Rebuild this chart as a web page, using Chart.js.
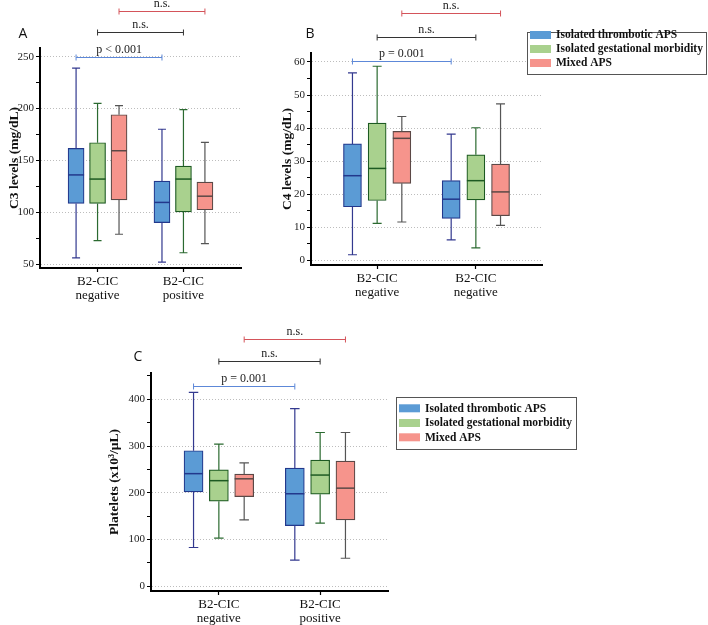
<!DOCTYPE html>
<html>
<head>
<meta charset="utf-8">
<script src="https://cdn.jsdelivr.net/npm/chart.js@4.4.1/dist/chart.umd.min.js"></script>
<style>
html, body { margin: 0; padding: 0; background: #fff; }
#wrap { position: relative; width: 708px; height: 625px; overflow: hidden; }
canvas { position: absolute; }
</style>
</head>
<body>
<div id="wrap">
  <canvas id="chartA" width="250" height="305" style="left:0;top:0"></canvas>
  <canvas id="chartB" width="458" height="305" style="left:250px;top:0"></canvas>
  <canvas id="chartC" width="480" height="305" style="left:100px;top:320px"></canvas>
</div>
<script>
// groups and categories
const groups = ['Isolated thrombotic APS', 'Isolated gestational morbidity', 'Mixed APS'];
const catLabels = [['B2-CIC', 'negative'], ['B2-CIC', 'positive']];
const catLabelsB = [['B2-CIC', 'negative'], ['B2-CIC', 'negative']];

// each entry: [min, q1, median, q3, max] for negative / positive
const c3Thrombotic = [[56, 108.5, 136, 161.5, 239], [52, 90, 109.5, 130, 180]];
const c3Gestational = [[72.6, 108.5, 132, 167, 205], [61, 100.4, 132, 144.5, 199]];
const c3Mixed = [[78.8, 112, 159.3, 194, 202.7], [69.8, 102.4, 115.5, 129, 167.3]];

const c4Thrombotic = [[1.7, 16.2, 25.6, 35.2, 56.7], [6.2, 12.7, 18.5, 24.1, 38.2]];
const c4Gestational = [[11.2, 18.1, 27.8, 41.5, 58.7], [3.8, 18.3, 24.1, 31.9, 40.1]];
const c4Mixed = [[11.6, 23.3, 36.9, 39, 43.5], [10.6, 13.5, 20.7, 29.1, 47.3]];

const pltThrombotic = [[83, 202, 241, 290, 415], [56, 130, 198, 253, 380]];
const pltGestational = [[103, 182, 226, 249, 304], [135, 197, 238, 270, 329]];
const pltMixed = [[142, 192, 230, 240, 264], [60, 142, 210, 268, 329]];

const c3Ticks = [50, 100, 150, 200, 250];
const c4Ticks = [0, 10, 20, 30, 40, 50, 60];
const pltTicks = [0, 100, 200, 300, 400];

const sigA = ['p < 0.001', 'n.s.', 'n.s.'];
const sigBC = ['p = 0.001', 'n.s.', 'n.s.'];

const fills = ['#5b9bd5', '#a9d18e', '#f6948c'];
const edges = ['#22388c', '#1d5a22', '#5b4846'];
const whiskers = ['#33398f', '#2b6a30', '#555555'];
const sigColors = ['#5d88d8', '#333333', '#d4545a'];

const SERIF = '"Liberation Serif", "Times New Roman", serif';
const GAP = 0.25; // offset of each group around the category centre

const boxPlugin = {
    id: 'boxplot',
    afterDatasetsDraw(chart) {
        const { ctx } = chart;
        const xs = chart.scales.x, ys = chart.scales.y;
        chart.data.datasets.forEach((ds, g) => {
            ds.stats.forEach((s, i) => {
                const cx = xs.getPixelForValue(ds.data[i].x);
                const half = ds.barThickness / 2;
                const cap = ds.barThickness / 4;
                const [mn, q1, md, q3, mx] = s.map(v => ys.getPixelForValue(v));
                ctx.save();
                ctx.strokeStyle = whiskers[g];
                ctx.lineWidth = 1.2;
                ctx.beginPath();
                ctx.moveTo(cx, q3); ctx.lineTo(cx, mx);
                ctx.moveTo(cx - cap, mx); ctx.lineTo(cx + cap, mx);
                ctx.moveTo(cx, q1); ctx.lineTo(cx, mn);
                ctx.moveTo(cx - cap, mn); ctx.lineTo(cx + cap, mn);
                ctx.stroke();
                ctx.strokeStyle = edges[g];
                ctx.lineWidth = 1.5;
                ctx.beginPath();
                ctx.moveTo(cx - half, md); ctx.lineTo(cx + half, md);
                ctx.stroke();
                ctx.restore();
            });
        });
    },
    afterDraw(chart, args, opts) {
        const { ctx, chartArea } = chart;
        const xs = chart.scales.x;
        ctx.save();
        // significance brackets
        opts.sig.forEach((txt, g) => {
            const x1 = xs.getPixelForValue(0 + (g - 1) * GAP);
            const x2 = xs.getPixelForValue(1 + (g - 1) * GAP);
            const yy = Math.round(chartArea.top + opts.sigOffsets[g]) + 0.5;
            ctx.strokeStyle = sigColors[g];
            ctx.lineWidth = 1;
            ctx.beginPath();
            ctx.moveTo(x1, yy); ctx.lineTo(x2, yy);
            ctx.moveTo(x1, yy - 3); ctx.lineTo(x1, yy + 3);
            ctx.moveTo(x2, yy - 3); ctx.lineTo(x2, yy + 3);
            ctx.stroke();
            ctx.fillStyle = '#222';
            ctx.font = '12px ' + SERIF;
            ctx.textAlign = 'center';
            ctx.textBaseline = 'alphabetic';
            ctx.fillText(txt, (x1 + x2) / 2, yy - 4.5);
        });
        // panel letter
        ctx.fillStyle = '#111';
        ctx.font = '14px "Open Sans", sans-serif';
        ctx.textAlign = 'center';
        ctx.textBaseline = 'middle';
        ctx.fillText(opts.letter.text, opts.letter.x, opts.letter.y);
        // legend
        const lg = opts.legend;
        if (lg) {
            ctx.fillStyle = '#fff';
            ctx.fillRect(lg.x, lg.y, lg.w, lg.h);
            ctx.strokeStyle = '#555';
            ctx.lineWidth = 1;
            ctx.strokeRect(Math.round(lg.x) + 0.5, Math.round(lg.y) + 0.5, lg.w, lg.h);
            ctx.font = 'bold 11.5px ' + SERIF;
            ctx.textAlign = 'left';
            ctx.textBaseline = 'middle';
            groups.forEach((name, g) => {
                ctx.fillStyle = fills[g];
                ctx.fillRect(lg.swatchX, lg.rows[g] - 4, 21, 8);
                ctx.fillStyle = '#111';
                ctx.fillText(name, lg.textX, lg.rows[g] + 0.5);
            });
        }
        ctx.restore();
    }
};

function makeChart(id, cfg) {
    const canvas = document.getElementById(id);
    const W = canvas.width, H = canvas.height;
    const majors = cfg.ticks;
    const step = majors[1] - majors[0];
    const tickList = [];
    majors.forEach(v => {
        tickList.push({ value: v });
        tickList.push({ value: v + step / 2, minor: true });
    });
    tickList.unshift({ value: majors[0] - step / 2, minor: true });
    const yTicks = tickList.filter(t => t.value >= cfg.yMin && t.value <= cfg.yMax);

    return new Chart(canvas, {
        type: 'bar',
        data: {
            datasets: cfg.series.map((s, g) => ({
                label: groups[g],
                data: s.map((v, i) => ({ x: i + (g - 1) * GAP, y: [v[1], v[3]] })),
                stats: s,
                backgroundColor: fills[g],
                borderColor: edges[g],
                borderWidth: 1.2,
                borderSkipped: false,
                barThickness: cfg.barW,
                grouped: false
            }))
        },
        options: {
            responsive: false,
            animation: false,
            devicePixelRatio: 1,
            layout: { padding: { left: 0, top: cfg.area.top, right: W - cfg.area.right, bottom: 0 } },
            plugins: {
                legend: { display: false },
                tooltip: { enabled: false },
                boxplot: {
                    sig: cfg.sig,
                    sigOffsets: cfg.sigOffsets,
                    letter: cfg.letter,
                    legend: cfg.legend
                }
            },
            scales: {
                x: {
                    type: 'linear',
                    min: -0.67, max: 1.67,
                    offset: false,
                    afterBuildTicks: (scale) => { scale.ticks = [{ value: 0 }, { value: 1 }]; },
                    afterFit: (scale) => { scale.height = H - cfg.area.bottom; },
                    grid: { offset: false, drawOnChartArea: false, drawTicks: true, tickLength: 4, tickColor: '#000', tickWidth: 1.2 },
                    border: { color: '#000', width: 2 },
                    ticks: {
                        autoSkip: false, maxRotation: 0, padding: 2,
                        color: '#111',
                        font: { family: SERIF, size: 13, lineHeight: 1.1 },
                        callback: (v) => cfg.labels[v]
                    }
                },
                y: {
                    type: 'linear',
                    min: cfg.yMin, max: cfg.yMax,
                    afterBuildTicks: (scale) => { scale.ticks = yTicks.map(t => ({ ...t })); },
                    afterFit: (scale) => { scale.width = cfg.area.left; },
                    grid: {
                        color: (c) => (c.tick && c.tick.minor) ? 'rgba(0,0,0,0)' : '#bdbdbd',
                        tickColor: '#000',
                        tickLength: 4,
                        tickWidth: 1
                    },
                    border: { color: '#000', width: 2, dash: [1, 2] },
                    title: {
                        display: true, text: cfg.title, color: '#111',
                        font: { family: SERIF, size: 13.5, weight: 'bold' },
                        padding: { top: cfg.yTitlePad, bottom: 0 }
                    },
                    ticks: {
                        padding: 2, color: '#222',
                        font: { family: SERIF, size: 11 },
                        callback: (v, i, ticks) => ticks[i].minor ? '' : String(v)
                    }
                }
            }
        },
        plugins: [boxPlugin]
    });
}

makeChart('chartA', {
    series: [c3Thrombotic, c3Gestational, c3Mixed],
    labels: catLabels, ticks: c3Ticks,
    yMin: 46.3, yMax: 258.3,
    title: 'C3 levels (mg/dL)',
    area: { left: 40, top: 48, right: 241, bottom: 268 },
    barW: 16, yTitlePad: 6,
    sig: sigA, sigOffsets: [9, -16, -37],
    letter: { text: 'A', x: 23, y: 34 },
    legend: null
});

makeChart('chartB', {
    series: [c4Thrombotic, c4Gestational, c4Mixed],
    labels: catLabelsB, ticks: c4Ticks,
    yMin: -1.4, yMax: 62.7,
    title: 'C4 levels (mg/dL)',
    area: { left: 61, top: 53, right: 292, bottom: 265 },
    barW: 18, yTitlePad: 29,
    sig: sigBC, sigOffsets: [8, -16.3, -39.7],
    letter: { text: 'B', x: 60, y: 34 },
    legend: { x: 277, y: 32, w: 179, h: 42, swatchX: 280, textX: 306, rows: [35, 49, 63] }
});

makeChart('chartC', {
    series: [pltThrombotic, pltGestational, pltMixed],
    labels: catLabels, ticks: pltTicks,
    yMin: -10, yMax: 456.3,
    title: 'Platelets (x10³/µL)',
    area: { left: 51, top: 53, right: 288, bottom: 271 },
    barW: 19, yTitlePad: 6,
    sig: sigBC, sigOffsets: [13, -11.7, -33.7],
    letter: { text: 'C', x: 38, y: 37.5 },
    legend: { x: 296, y: 77, w: 180, h: 52, swatchX: 299, textX: 325, rows: [88.3, 103, 117.3] }
});
</script>
</body>
</html>
